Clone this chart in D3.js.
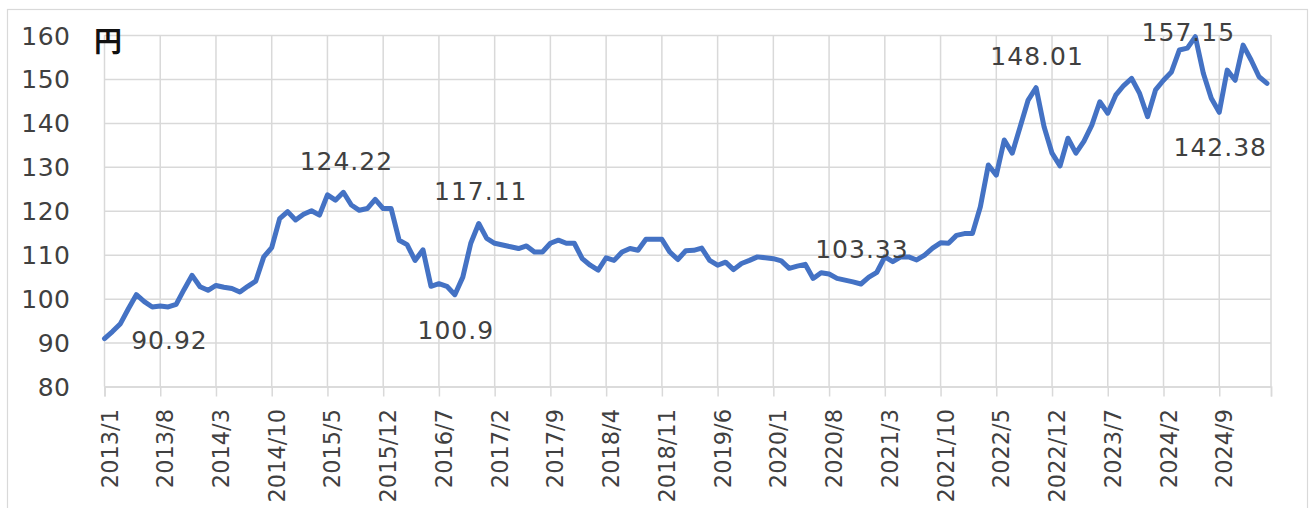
<!DOCTYPE html>
<html>
<head>
<meta charset="utf-8">
<script src="https://cdn.jsdelivr.net/npm/d3@7"></script>
<style>
  body { margin: 0; background: #fff; }
</style>
</head>
<body>
<div id="chart"></div>
<script>
// category labels shown on the x axis (every 7th month)
const tickLabels = ["2013/1", "2013/8", "2014/3", "2014/10", "2015/5", "2015/12",
  "2016/7", "2017/2", "2017/9", "2018/4", "2018/11", "2019/6", "2020/1", "2020/8",
  "2021/3", "2021/10", "2022/5", "2022/12", "2023/7", "2024/2", "2024/9"];
const labelEvery = 7;

const yTicks = [80, 90, 100, 110, 120, 130, 140, 150, 160];

// monthly USD/JPY, 2013/1 .. 2025/3
const rate = [
  90.9, 92.5, 94.3, 97.7, 100.9, 99.3, 98.1, 98.3, 98.1, 98.7, 102.1, 105.3,      // 2013
  102.7, 101.9, 103.0, 102.6, 102.3, 101.5, 102.8, 104.0, 109.5, 111.6, 118.2, 119.8, // 2014
  117.9, 119.2, 120.0, 119.0, 123.6, 122.4, 124.2, 121.3, 120.1, 120.5, 122.6, 120.5, // 2015
  120.5, 113.3, 112.3, 108.7, 111.1, 102.8, 103.4, 102.8, 100.9, 104.9, 112.6, 117.1, // 2016
  113.7, 112.6, 112.2, 111.8, 111.4, 112.0, 110.6, 110.6, 112.6, 113.3, 112.6, 112.6, // 2017
  109.1, 107.6, 106.5, 109.3, 108.7, 110.6, 111.4, 111.0, 113.5, 113.5, 113.5, 110.6, // 2018
  108.9, 110.9, 111.0, 111.5, 108.7, 107.6, 108.3, 106.6, 108.0, 108.7, 109.5, 109.3, // 2019
  109.1, 108.6, 106.9, 107.4, 107.8, 104.6, 105.9, 105.6, 104.6, 104.2, 103.8, 103.33, // 2020
  104.9, 106.0, 109.5, 108.4, 109.5, 109.5, 108.8, 109.9, 111.5, 112.7, 112.6, 114.4, // 2021
  114.8, 114.8, 120.9, 130.4, 128.1, 136.1, 133.1, 139.1, 145.2, 148.0, 139.1, 133.1, // 2022
  130.2, 136.5, 133.1, 135.8, 139.5, 144.8, 142.2, 146.3, 148.5, 150.1, 146.7, 141.4, // 2023
  147.5, 149.7, 151.6, 156.6, 157.0, 159.6, 151.3, 145.6, 142.4, 152.0, 149.7, 157.7, // 2024
  154.3, 150.5, 149.0                                                                 // 2025
];

// data labels: month index and text
const callouts = [
  { i: 0, text: "90.92" },
  { i: 30, text: "124.22" },
  { i: 44, text: "100.9" },
  { i: 47, text: "117.11" },
  { i: 95, text: "103.33" },
  { i: 117, text: "148.01" },
  { i: 137, text: "157.15" },
  { i: 140, text: "142.38" }
];
// where each label sits relative to its point
const calloutShift = {
  "90.92": [65, 10], "124.22": [3, -22], "100.9": [1, 44], "117.11": [2, -23],
  "103.33": [1, -26], "148.01": [1, -23], "157.15": [-7, 4], "142.38": [1, 44]
};

const W = 1311, H = 508;
const plot = { left: 104.5, right: 1271, top: 35, bottom: 386.5 };
const font = "DejaVu Sans, Verdana, sans-serif";
const textColor = "#404040";
const gridColor = "#d9d9d9";

const svg = d3.select("#chart")
  .append("svg")
  .attr("width", W)
  .attr("height", H)
  .style("display", "block")
  .style("background", "#fff");

// outer chart border
svg.append("rect")
  .attr("x", 7.5).attr("y", 9.5)
  .attr("width", 1300).attr("height", 520)
  .attr("fill", "none")
  .attr("stroke", gridColor)
  .attr("stroke-width", 1.2);

const x = d3.scaleLinear()
  .domain([0, rate.length - 0.5])
  .range([plot.left, plot.right]);

const y = d3.scaleLinear()
  .domain([80, 160])
  .range([plot.bottom, plot.top]);

const tickIdx = tickLabels.map((d, k) => k * labelEvery);

// horizontal grid + y labels
svg.append("g")
  .attr("transform", `translate(${plot.left},0)`)
  .call(d3.axisLeft(y)
    .tickValues(yTicks)
    .tickSize(-(plot.right - plot.left))
    .tickPadding(34)
    .tickFormat(d3.format("d")))
  .call((g) => g.select(".domain").remove())
  .call((g) => g.selectAll(".tick line").attr("stroke", gridColor).attr("stroke-width", 1.5))
  .call((g) => g.selectAll(".tick text")
    .attr("fill", textColor)
    .attr("font-family", font)
    .attr("font-size", 25)
    .attr("letter-spacing", 0.5)
    .attr("dy", "0.36em"));

// vertical grid lines
svg.append("g")
  .selectAll("line")
  .data(tickIdx.concat([rate.length - 0.5]))
  .join("line")
  .attr("x1", (d) => x(d)).attr("x2", (d) => x(d))
  .attr("y1", plot.top).attr("y2", plot.bottom)
  .attr("stroke", gridColor)
  .attr("stroke-width", 1.5);

// x axis with rotated labels
svg.append("g")
  .attr("transform", `translate(0,${plot.bottom})`)
  .call(d3.axisBottom(x)
    .tickValues(tickIdx.concat([rate.length - 0.5]))
    .tickSize(10)
    .tickFormat((d) => tickLabels[d / labelEvery] || ""))
  .call((g) => g.select(".domain").attr("stroke", gridColor).attr("stroke-width", 1.5))
  .call((g) => g.selectAll(".tick line").attr("stroke", gridColor).attr("stroke-width", 1.5))
  .call((g) => g.selectAll(".tick text")
    .attr("fill", textColor)
    .attr("font-family", font)
    .attr("font-size", 22.5)
    .attr("text-anchor", "end")
    .attr("transform", "rotate(-90)")
    .attr("x", -22.5)
    .attr("y", 12.5)
    .attr("dy", 0));

// the line itself
const line = d3.line()
  .x((d, i) => x(i))
  .y((d) => y(d));

svg.append("path")
  .datum(rate)
  .attr("d", line)
  .attr("fill", "none")
  .attr("stroke", "#4472C4")
  .attr("stroke-width", 5)
  .attr("stroke-linejoin", "round")
  .attr("stroke-linecap", "round");

// data labels
svg.append("g")
  .selectAll("text")
  .data(callouts)
  .join("text")
  .attr("x", (d) => x(d.i) + calloutShift[d.text][0])
  .attr("y", (d) => y(rate[d.i]) + calloutShift[d.text][1])
  .attr("text-anchor", "middle")
  .attr("fill", textColor)
  .attr("font-family", font)
  .attr("font-size", 25)
  .attr("letter-spacing", 1)
  .text((d) => d.text);

// unit label
svg.append("text")
  .attr("x", 108)
  .attr("y", 52)
  .attr("text-anchor", "middle")
  .attr("font-family", "Noto Sans CJK JP, sans-serif")
  .attr("font-weight", "bold")
  .attr("font-size", 28)
  .attr("fill", "#111")
  .text("円");
</script>
</body>
</html>
